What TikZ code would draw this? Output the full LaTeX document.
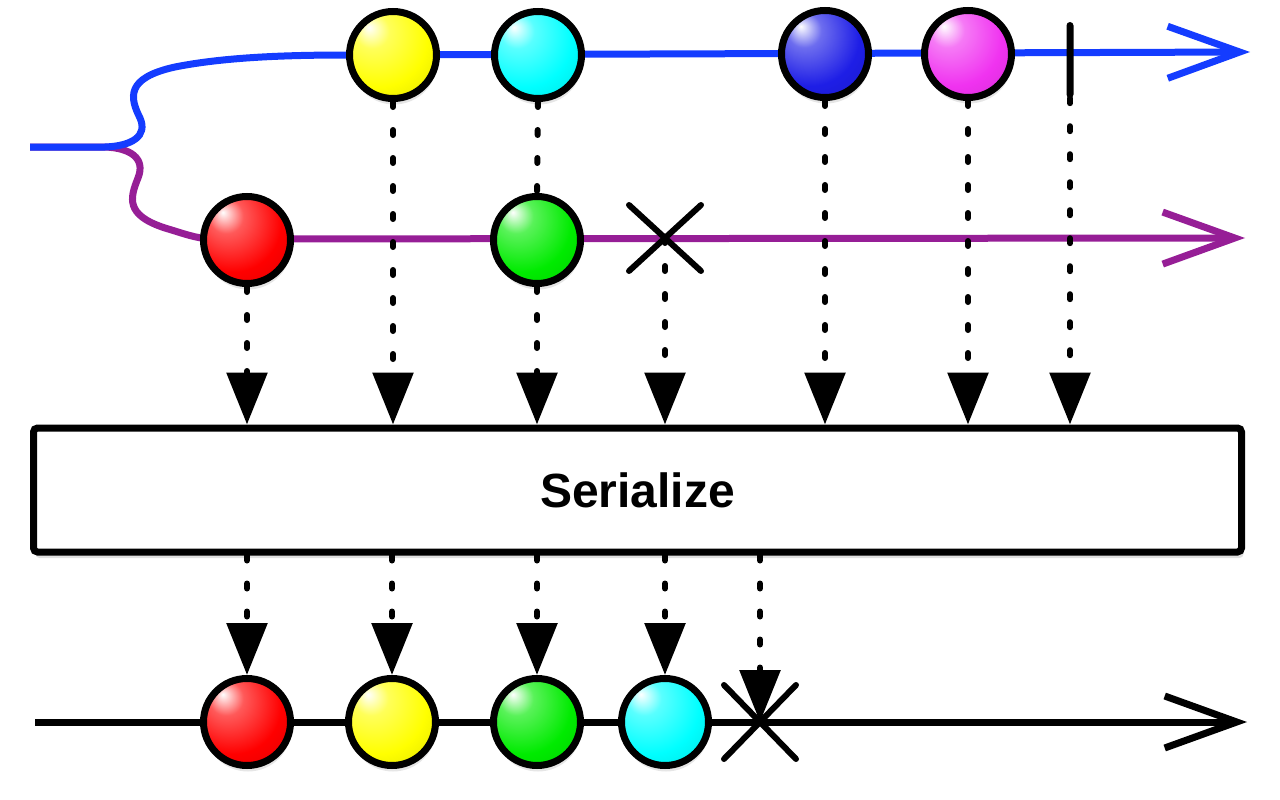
\documentclass[tikz,border=0pt]{standalone}
\usepackage{fontspec}
\newfontfamily\labelfont{Liberation Sans}
\usetikzlibrary{arrows.meta,shapes.misc,shadows}
\definecolor{rxblue}{RGB}{20,60,255}
\definecolor{rxpurple}{RGB}{150,30,150}
\definecolor{rxnavy}{RGB}{30,30,230}
\definecolor{rxpink}{RGB}{240,50,240}
\definecolor{rxgreen}{RGB}{0,235,0}
\makeatletter
\pgfdeclareradialshading[tikz@ball]{glossy}{\pgfqpoint{-14bp}{16bp}}{%
  color(0bp)=(tikz@ball!0!white); color(10bp)=(tikz@ball!65!white);
  color(28bp)=(tikz@ball); color(48bp)=(tikz@ball!85!black); color(70bp)=(tikz@ball!55!black)}
\makeatother

\begin{document}
\begin{tikzpicture}[
    x=1pt, y=-1pt,
    ball/.style={circle,draw,line width=7pt,minimum size=87pt,inner sep=0pt,
        drop shadow={opacity=0.2,shadow xshift=1pt,shadow yshift=-6pt}},
    cross/.style={cross out,draw,line width=6pt,line cap=round,minimum width=66pt,minimum height=60pt,inner sep=0pt},
    bar/.style={fill=black,rounded corners=3.5pt,minimum width=7pt,minimum height=76pt,inner sep=0pt},
    box/.style={draw,fill=white,line width=7pt,rounded corners=4pt,minimum width=1208pt,minimum height=124pt,
        font=\labelfont\bfseries\fontsize{48}{56}\selectfont,
        drop shadow={opacity=0.25,shadow xshift=2pt,shadow yshift=-6pt}},
    timeline/.style={line width=7pt,-{Straight Barb[length=72pt,width=52pt]}},
    dotline/.style={line width=6pt,line cap=round,dash pattern=on 5pt off 23pt},
    dotarrow/.style={dotline,-{Triangle[length=52pt,width=40pt]}}
]
\useasboundingbox (0,0) rectangle (1280,800);

% timelines
\coordinate (fork) at (30,147);
\coordinate (blueend) at (1250,52);
\coordinate (purpleend) at (1245,238);
\coordinate (botstart) at (35,722);
\coordinate (botend) at (1247,722);

\draw[timeline,rxpurple] (fork) -- (105,147) .. controls (130,148) and (146,158) .. (138,178)
    .. controls (130,198) and (125,215) .. (165,228) .. controls (185,234) and (195,238) .. (210,239) -- (purpleend);
\draw[timeline,rxblue] (fork) -- (105,147) .. controls (132,146) and (148,136) .. (140,118)
    .. controls (130,98) and (125,78) .. (175,67) .. controls (230,56) and (300,55) .. (350,55) -- (blueend);
\draw[timeline,black] (botstart) -- (botend);

% source items
\node[ball,ball color=yellow,shading=glossy] (yellowA) at (393,55) {};
\node[ball,ball color=cyan,shading=glossy] (cyanA) at (538,55) {};
\node[ball,ball color=rxnavy,shading=glossy] (blueA) at (825,54) {};
\node[ball,ball color=rxpink,shading=glossy] (magentaA) at (968,54) {};
\node[bar] (doneA) at (1070,60) {};
\node[ball,ball color=red,shading=glossy] (redB) at (247,240) {};
\node[ball,ball color=rxgreen,shading=glossy] (greenB) at (537,240) {};
\node[cross] (errB) at (665,238) {};

\node[box] (serialize) at (637.5,490) {Serialize};

% output items
\node[ball,ball color=red,shading=glossy] (redC) at (247,722) {};
\node[ball,ball color=yellow,shading=glossy] (yellowC) at (392,722) {};
\node[ball,ball color=rxgreen,shading=glossy] (greenC) at (537,722) {};
\node[ball,ball color=cyan,shading=glossy] (cyanC) at (665,722) {};
\node[cross,minimum height=68pt] (errC) at (760,722) {};

% into the operator
\foreach \n in {redB,yellowA,greenB,blueA,magentaA,doneA}
    \draw[dotarrow] (\n.south) -- (\n.south |- serialize.north);
\draw[dotline] (cyanA.south) -- (greenB.north);
\draw[dotarrow] (errB.center) -- (errB.center |- serialize.north);

% out of the operator
\foreach \n in {redC,yellowC,greenC,cyanC}
    \draw[dotarrow] (\n |- serialize.south) -- (\n.north);
\draw[dotarrow] (errC |- serialize.south) -- (errC.center);
\end{tikzpicture}
\end{document}
